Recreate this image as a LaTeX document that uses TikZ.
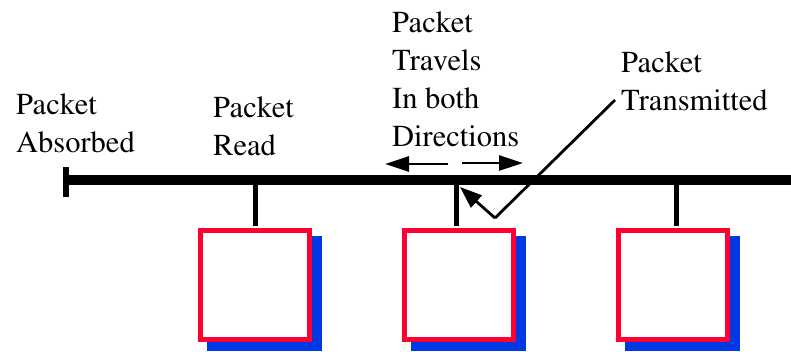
\documentclass[tikz,border=0pt]{standalone}
\usepackage[T1]{fontenc}
\usepackage{mathptmx}
\usetikzlibrary{arrows.meta}
\definecolor{boxred}{RGB}{255,0,51}
\definecolor{shadowblue}{RGB}{0,56,228}
\begin{document}
\begin{tikzpicture}[x=1pt,y=-1pt,
  lbl/.style={inner sep=0pt,anchor=base west,align=left,font=\rmfamily\fontsize{30.5}{38}\selectfont},
  station/.style={draw=boxred,line width=5pt,fill=white,minimum size=109pt,inner sep=0pt},
  shadowbox/.style={fill=shadowblue,minimum size=115pt,inner sep=0pt},
  busline/.style={line width=10pt},
  stub/.style={line width=5pt},
  thin/.style={line width=2.8pt},
  tip/.style={-{Triangle[length=24pt,width=15pt]}}]
\useasboundingbox (0,0) rectangle (791,351);
% bus
\coordinate (busL) at (66,180);
\coordinate (busR) at (791,180);
\draw[busline] (busL) -- (busR);
\coordinate (capT) at (66,167);
\coordinate (capB) at (66,197);
\draw[line width=6pt] (capT) -- (capB);
% stations
\node[shadowbox] (s1) at (264.5,293.5) {};
\node[station] (b1) at (255,285) {};
\node[shadowbox] (s2) at (468,293.5) {};
\node[station] (b2) at (458.5,285) {};
\node[shadowbox] (s3) at (682,293.5) {};
\node[station] (b3) at (672.5,285) {};
\draw[stub] (b1.north) ++(0,-2.5) -- (b1.north |- busL);
\coordinate (st2) at (456,226);
\draw[stub] (st2) -- (st2 |- busL);
\coordinate (st3) at (676,226);
\draw[stub] (st3) -- (st3 |- busL);
% labels
\node[lbl] (absorbed) at (16,152) {Packet\\Absorbed};
\node[lbl] (read) at (213,155) {Packet\\Read};
\node[lbl] (travels) at (392,146) {Packet\\Travels\\In both\\Directions};
\node[lbl] (transmitted) at (621,110) {Packet\\Transmitted};
% direction arrows
\coordinate (la) at (448,164);
\coordinate (lb) at (385,164);
\coordinate (ra) at (462,163);
\coordinate (rb) at (523,163);
\draw[thin,tip] (la) -- (lb);
\draw[thin,tip] (ra) -- (rb);
% transmitted pointer
\coordinate (tx) at (615,100);
\coordinate (v) at (495,218);
\coordinate (hit) at (460,187);
\draw[thin] (tx) -- (v);
\draw[thin,-{Triangle[length=22pt,width=16pt]}] (v) -- (hit);
\end{tikzpicture}
\end{document}
